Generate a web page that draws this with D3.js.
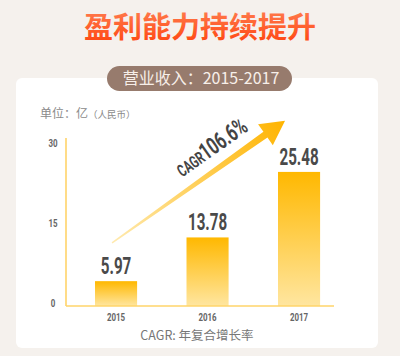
<!DOCTYPE html>
<html><head><meta charset="utf-8">
<script src="https://cdn.jsdelivr.net/npm/d3@7/dist/d3.min.js"></script>
<style>html,body{margin:0;padding:0;background:#f5f1ed;}svg{display:block;}</style>
</head><body>
<script>
const title = "盈利能力持续提升";
const subtitle = "营业收入：2015-2017";
const unitMain = "单位：亿";
const unitSub = "（人民币）";
const years = ["2015", "2016", "2017"];
const revenue = [5.97, 13.78, 25.48];
const yTicks = [0, 15, 30];
const cagrLabel = "CAGR";
const cagrValue = "106.6%";
const footnote = "CAGR: 年复合增长率";

const W = 400, H = 356;
const svg = d3.select("body").append("svg").attr("width", W).attr("height", H);
const defs = svg.append("defs");

function vgrad(id, c1, c2) {
  const g = defs.append("linearGradient").attr("id", id).attr("x1", 0).attr("y1", 0).attr("x2", 0).attr("y2", 1);
  g.append("stop").attr("offset", "0%").attr("stop-color", c1);
  g.append("stop").attr("offset", "100%").attr("stop-color", c2);
}
vgrad("titleGrad", "#ff8458", "#ff420c");
vgrad("barGrad", "#ffb800", "#ffe6a0");

svg.append("rect").attr("width", W).attr("height", H).attr("fill", "#f5f1ed");
svg.append("rect").attr("x", 16).attr("y", 78).attr("width", 362).attr("height", 270).attr("rx", 6).attr("fill", "#ffffff");

svg.append("text").attr("x", 200).attr("y", 38).attr("text-anchor", "middle")
  .attr("font-family", "'Noto Sans CJK SC', sans-serif").attr("font-weight", 700).attr("font-size", 29)
  .attr("fill", "url(#titleGrad)").text(title);

svg.append("rect").attr("x", 107).attr("y", 66).attr("width", 185).attr("height", 25).attr("rx", 12.5).attr("fill", "#977b6d");
svg.append("text").attr("x", 201).attr("y", 84).attr("text-anchor", "middle")
  .attr("font-family", "'Noto Sans CJK SC', sans-serif").attr("font-size", 16).attr("fill", "#f7efe9").text(subtitle);

const unit = svg.append("text").attr("x", 40).attr("y", 118)
  .attr("font-family", "'Noto Sans CJK SC', sans-serif").attr("fill", "#8a8a8a");
unit.append("tspan").attr("font-size", 12).text(unitMain);
unit.append("tspan").attr("font-size", 9.5).text(unitSub);

// scales
const x = d3.scaleBand().domain(years).range([70.3, 344.8]).paddingInner(0.54).paddingOuter(0.27);
const yTick = d3.scaleLinear().domain([0, 30]).range([303, 143]);
const yBar = d3.scaleLinear().domain([0, 30]).range([314.6, 146.6]);
const axisY = 306, axisX = 66;

const numFont = "Roboto, 'DejaVu Sans', sans-serif";
function condText(parent, tx, ty, size, fill, txt, sx) {
  return parent.append("text").attr("transform", `translate(${tx},${ty}) scale(${sx || 0.7},1)`)
    .attr("text-anchor", "middle").attr("font-family", numFont).attr("font-weight", 700)
    .attr("font-size", size).attr("fill", fill).text(txt);
}

// bars
const data = years.map((y, i) => ({ year: y, v: revenue[i] }));
svg.selectAll("rect.bar").data(data).enter().append("rect").attr("class", "bar")
  .attr("x", d => x(d.year)).attr("width", x.bandwidth())
  .attr("y", d => yBar(d.v)).attr("height", d => axisY - yBar(d.v))
  .attr("fill", "url(#barGrad)");

// axes
svg.append("line").attr("x1", axisX).attr("x2", axisX).attr("y1", 138).attr("y2", axisY)
  .attr("stroke", "#ffd46a").attr("stroke-width", 1.6);
svg.append("line").attr("x1", axisX).attr("x2", 334).attr("y1", axisY).attr("y2", axisY)
  .attr("stroke", "#ffd46a").attr("stroke-width", 1.6);

yTicks.forEach(t => condText(svg, 53, yTick(t) + 4, 11, "#666", String(t), 0.72));
years.forEach(y => condText(svg, x(y) + x.bandwidth() / 2, 321, 11, "#666", y, 0.72));
data.forEach(d => condText(svg, x(d.year) + x.bandwidth() / 2, yBar(d.v) - 7, 23, "#4a4a4a", d.v.toFixed(2), 0.66));

// arrow annotation
const tail = [x("2015") + x.bandwidth() / 2 - 4, yBar(12.8)];
const tip = [x("2017") + x.bandwidth() / 2 - 14, yBar(34.6)];
const dx = tip[0] - tail[0], dy = tip[1] - tail[1];
const L = Math.hypot(dx, dy), ang = Math.atan2(dy, dx) * 180 / Math.PI;
const ag = defs.append("linearGradient").attr("id", "arrowGrad").attr("gradientUnits", "userSpaceOnUse")
  .attr("x1", 0).attr("y1", 0).attr("x2", L).attr("y2", 0);
ag.append("stop").attr("offset", "0%").attr("stop-color", "#ffeab0");
ag.append("stop").attr("offset", "100%").attr("stop-color", "#ffb400");
const arrow = svg.append("g").attr("transform", `translate(${tail[0]},${tail[1]}) rotate(${ang})`);
const hb = L - 24;
arrow.append("polygon").attr("points",
  [[0, -0.7], [hb, -3.5], [hb, -12.8], [L, 0], [hb, 12.8], [hb, 3.5], [0, 0.7]].map(p => p.join(",")).join(" "))
  .attr("fill", "url(#arrowGrad)");
const ct = arrow.append("text").attr("transform", "translate(95,-13) scale(0.66,1)")
  .attr("font-family", numFont).attr("font-weight", 700).attr("fill", "#444");
ct.append("tspan").attr("font-size", 17).text(cagrLabel);
ct.append("tspan").attr("font-size", 24).text(cagrValue);

svg.append("text").attr("x", 197).attr("y", 340).attr("text-anchor", "middle")
  .attr("font-family", "'Noto Sans CJK SC', sans-serif").attr("font-size", 12.5).attr("fill", "#777").text(footnote);
</script>
</body></html>
